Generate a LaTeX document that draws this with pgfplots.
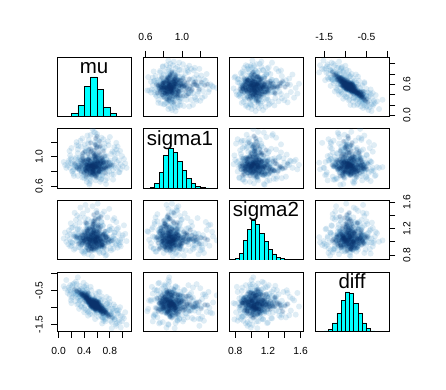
\documentclass[border=0pt]{standalone}
\usepackage{fontspec}
\setmainfont{Liberation Sans}
\usepackage{pgfplots}
\pgfplotsset{compat=1.18}
\usepackage{pgfplotstable}
\definecolor{halo}{RGB}{66,146,198}
\definecolor{core}{RGB}{8,48,107}
\definecolor{histc}{RGB}{0,255,255}

\pgfplotstableread{
mu s1 s2 diff
0.52 0.84 1.01 -0.79
0.61 0.93 1.08 -1.02
0.47 0.88 0.97 -0.71
0.58 0.79 1.12 -0.95
0.66 0.91 1.04 -1.08
0.43 0.86 0.99 -0.69
0.55 1.02 1.15 -0.84
0.71 0.83 0.94 -1.17
0.38 0.95 1.06 -0.64
0.54 0.77 1.21 -0.93
0.49 0.89 1.03 -0.88
0.63 0.81 0.92 -0.90
0.57 0.97 1.09 -1.05
0.45 0.85 1.18 -0.62
0.68 0.90 1.00 -0.97
0.51 1.08 1.05 -0.86
0.59 0.74 0.98 -1.12
0.35 0.87 1.11 -0.55
0.62 0.92 0.95 -0.83
0.53 0.82 1.27 -0.99
0.48 0.99 1.02 -0.77
0.74 0.86 1.07 -1.21
0.56 0.80 0.90 -0.74
0.41 0.94 1.13 -0.80
0.64 1.13 1.01 -1.00
0.50 0.88 0.96 -0.92
0.60 0.76 1.16 -0.87
0.46 0.84 1.04 -0.58
0.69 0.96 1.10 -1.15
0.55 0.91 0.88 -0.95
0.32 0.83 1.06 -0.49
0.58 1.04 1.00 -1.04
0.52 0.79 1.23 -0.81
0.77 0.87 0.99 -1.26
0.44 0.90 1.08 -0.76
0.61 0.85 1.34 -0.89
0.57 1.17 1.03 -0.97
0.49 0.81 0.93 -0.70
0.65 0.93 1.12 -1.11
0.40 0.78 1.01 -0.66
0.54 0.86 1.05 -0.91
0.67 0.98 0.97 -0.94
0.47 0.89 1.19 -0.85
0.59 0.72 1.07 -1.03
0.36 0.92 0.95 -0.61
0.56 0.84 1.14 -0.78
0.72 1.01 1.02 -1.10
0.51 0.87 0.86 -0.96
0.63 0.80 1.09 -1.06
0.42 0.95 1.29 -0.72
0.58 0.88 1.00 -0.82
0.50 1.06 1.11 -0.90
0.69 0.83 0.96 -1.19
0.45 0.90 1.04 -0.67
0.55 0.77 1.17 -1.01
0.60 0.94 0.91 -0.86
0.28 0.86 1.08 -0.52
0.53 0.91 1.03 -0.93
0.64 1.21 1.06 -1.04
0.48 0.82 0.99 -0.75
0.57 0.85 1.22 -0.98
0.81 0.89 1.01 -1.22
0.46 0.97 0.94 -0.81
0.62 0.79 1.13 -0.88
0.52 0.88 1.07 -0.97
0.39 0.93 1.02 -0.60
0.66 0.84 1.38 -1.13
0.55 1.00 0.98 -0.79
0.43 0.81 1.10 -0.84
0.70 0.92 1.05 -1.01
0.51 0.75 0.89 -0.87
0.59 0.87 1.15 -1.09
0.47 1.10 1.04 -0.73
0.61 0.90 0.97 -0.92
0.54 0.83 1.25 -0.89
0.34 0.96 1.06 -0.63
0.58 0.86 1.01 -0.96
0.73 0.78 1.09 -1.14
0.49 0.94 0.93 -0.78
0.56 1.03 1.12 -0.99
0.63 0.85 1.00 -0.85
0.44 0.89 1.20 -0.70
0.53 0.80 1.03 -1.02
0.68 0.99 0.95 -1.05
0.50 0.87 1.08 -0.83
0.60 0.91 1.44 -0.91
0.41 0.84 0.99 -0.57
0.57 0.76 1.05 -1.07
0.65 1.15 1.02 -0.98
0.52 0.88 0.90 -0.88
0.46 0.82 1.14 -0.80
0.75 0.93 1.07 -1.18
0.55 0.86 0.96 -0.94
0.38 1.05 1.10 -0.68
0.62 0.79 1.01 -1.00
0.54 0.90 1.31 -0.86
0.48 0.95 1.04 -0.91
0.67 0.84 0.92 -1.09
0.59 0.87 1.16 -0.82
0.43 0.73 1.06 -0.74
0.56 0.92 0.98 -1.03
0.70 1.08 1.03 -1.12
0.51 0.85 1.11 -0.76
0.31 0.89 0.97 -0.56
0.61 0.81 1.24 -0.95
0.53 0.97 1.00 -0.89
0.64 0.86 1.08 -1.07
0.47 0.83 0.87 -0.82
0.58 1.25 1.05 -0.93
0.45 0.88 1.13 -0.65
0.66 0.91 1.02 -1.16
0.55 0.78 0.95 -0.86
0.50 0.94 1.19 -0.98
0.79 0.87 1.04 -1.28
0.42 0.84 1.09 -0.71
0.60 0.99 0.93 -0.84
0.54 0.82 1.06 -1.05
0.37 0.90 1.01 -0.59
0.63 0.86 1.36 -1.02
0.57 1.02 1.07 -0.90
0.49 0.80 0.98 -0.80
0.71 0.93 1.12 -1.09
0.52 0.88 1.03 -0.94
0.44 0.76 0.91 -0.72
0.62 0.95 1.15 -0.99
0.56 0.85 1.00 -0.81
0.25 0.91 1.08 -0.47
0.59 1.12 1.04 -1.01
0.48 0.83 1.21 -0.87
0.68 0.89 0.96 -1.03
0.53 0.79 1.10 -0.92
0.40 0.96 1.02 -0.69
0.65 0.87 0.94 -1.10
0.55 0.81 1.27 -0.85
0.46 1.04 1.05 -0.77
0.61 0.92 0.99 -0.97
0.51 0.86 1.13 -0.96
0.74 0.84 1.01 -1.15
0.58 0.98 0.89 -0.88
0.43 0.89 1.07 -0.64
0.57 0.74 1.03 -1.06
0.64 0.91 1.17 -0.93
0.50 1.19 0.97 -0.84
0.36 0.85 1.09 -0.62
0.60 0.88 1.05 -1.04
0.54 0.82 0.92 -0.79
0.69 0.95 1.11 -1.20
0.47 0.87 1.00 -0.86
0.56 0.80 1.32 -0.91
0.62 1.01 1.06 -1.00
0.45 0.93 0.95 -0.75
0.53 0.84 1.14 -0.97
0.84 0.89 1.02 -1.31
0.49 0.77 1.08 -0.83
0.58 0.90 0.98 -0.90
0.41 1.07 1.04 -0.67
0.66 0.86 1.23 -1.06
0.55 0.92 1.01 -0.95
0.51 0.83 0.90 -0.78
0.63 0.88 1.10 -1.08
0.39 0.79 1.05 -0.73
0.57 0.97 0.96 -0.87
0.72 0.85 1.16 -1.13
0.48 0.91 1.03 -0.92
0.60 1.14 1.07 -0.89
0.52 0.87 0.93 -0.99
0.44 0.81 1.28 -0.71
0.67 0.94 1.00 -1.02
0.54 0.89 1.12 -0.84
0.33 0.86 0.99 -0.58
0.59 0.78 1.06 -1.05
0.47 0.96 1.09 -0.80
0.65 0.90 0.94 -0.95
0.56 1.09 1.18 -0.93
0.50 0.84 1.02 -0.87
0.76 0.88 1.08 -1.19
0.42 0.82 0.97 -0.68
0.61 0.93 1.04 -1.03
0.53 0.75 1.14 -0.90
0.58 1.00 1.01 -0.82
0.46 0.87 0.88 -0.85
0.70 0.91 1.11 -1.06
0.55 0.85 1.41 -0.96
0.38 0.98 1.05 -0.65
0.63 0.80 0.99 -1.01
0.51 0.89 1.07 -0.91
0.60 1.28 1.03 -0.94
0.45 0.86 1.16 -0.74
0.68 0.83 0.95 -1.11
0.57 0.92 1.09 -0.89
0.49 0.78 1.00 -0.81
0.64 0.95 1.20 -1.07
0.52 0.88 0.92 -0.86
0.29 0.84 1.06 -0.54
0.59 0.90 1.02 -0.98
0.54 1.05 1.13 -0.92
0.73 0.87 0.98 -1.16
0.43 0.81 1.04 -0.70
0.62 0.94 1.26 -0.96
0.56 0.86 1.08 -0.88
0.48 0.91 0.94 -0.83
0.66 0.79 1.01 -1.04
0.50 1.11 1.10 -0.97
0.60 0.85 0.97 -0.85
0.40 0.88 1.15 -0.63
0.55 0.82 1.05 -1.00
0.78 0.93 1.03 -1.23
0.53 0.89 0.89 -0.87
0.47 0.76 1.12 -0.79
0.61 0.99 1.07 -1.01
0.57 0.87 1.35 -0.94
0.44 0.84 0.99 -0.76
0.65 1.03 1.04 -1.08
0.51 0.90 1.18 -0.90
0.35 0.80 1.02 -0.60
0.59 0.86 0.93 -0.95
0.69 0.92 1.09 -1.05
0.54 0.88 1.01 -0.82
0.46 0.96 1.06 -0.84
0.62 0.83 1.22 -0.99
0.52 0.78 0.96 -0.92
0.58 1.16 1.08 -0.86
0.42 0.89 1.03 -0.73
0.71 0.85 0.91 -1.10
0.55 0.94 1.13 -0.91
0.49 0.87 1.00 -0.80
0.64 0.81 1.05 -1.02
0.56 0.91 1.29 -0.97
0.37 1.01 0.98 -0.66
0.60 0.86 1.10 -0.93
0.53 0.84 1.04 -0.85
0.67 0.97 0.95 -1.12
0.45 0.79 1.16 -0.77
0.57 0.90 1.02 -0.99
0.50 0.88 1.07 -0.89
0.63 1.06 0.99 -0.96
0.41 0.83 1.11 -0.62
0.58 0.87 0.92 -1.03
0.74 0.92 1.06 -1.09
0.54 0.80 1.19 -0.90
0.08 0.93 1.05 -0.38
1.06 0.85 1.01 -1.52
0.18 1.02 1.12 -0.49
0.95 0.79 0.95 -1.44
0.55 1.34 1.08 -0.86
0.48 0.64 1.03 -0.80
0.61 0.89 1.58 -0.98
0.52 0.90 0.78 -0.88
0.30 0.86 1.02 -0.12
0.83 0.92 1.07 -1.62
0.22 0.81 0.98 -0.33
0.88 0.97 1.14 -1.35
0.45 1.29 1.25 -0.55
0.66 0.69 0.90 -1.25
0.14 0.88 1.09 -0.58
0.92 1.05 1.01 -1.20
0.59 0.95 1.47 -0.70
0.40 0.71 0.85 -1.02
0.77 1.21 0.97 -0.98
0.27 0.99 1.33 -0.62
1.00 0.87 1.10 -1.28
0.50 0.67 1.19 -0.40
0.70 1.24 0.83 -1.40
0.34 0.94 1.52 -0.80
0.86 0.76 1.05 -1.05
0.20 1.12 0.94 -0.72
0.62 0.98 1.39 -0.55
0.46 1.18 0.81 -1.15
0.80 0.91 1.23 -0.85
0.24 0.74 1.08 -0.30
0.57 1.33 1.15 -1.18
0.36 0.90 0.86 -1.00
0.90 1.10 1.30 -1.10
0.12 0.85 1.00 -0.20
0.68 0.73 1.42 -1.30
0.43 1.07 1.21 -0.35
0.75 1.00 0.88 -0.70
0.31 1.15 1.12 -0.90
0.97 0.83 0.99 -1.60
0.53 0.96 1.54 -1.22
0.31 0.97 0.92 -0.71
0.79 0.80 1.18 -0.93
0.26 0.88 1.25 -0.66
0.84 1.07 0.96 -1.05
0.37 0.72 1.03 -0.51
0.72 1.18 1.12 -1.34
0.19 0.91 1.00 -0.55
0.93 0.86 1.21 -1.17
0.42 1.09 0.86 -1.08
0.67 0.70 1.30 -0.78
0.33 0.84 1.37 -0.81
0.81 0.95 0.90 -1.40
0.28 1.20 1.06 -0.44
0.76 0.78 1.16 -0.88
0.40 0.93 0.82 -0.40
0.69 1.11 1.24 -1.32
0.23 0.77 1.11 -0.60
0.88 0.99 1.04 -0.98
0.35 1.14 0.95 -0.97
0.73 0.68 1.08 -1.42
0.16 0.95 1.17 -0.42
0.97 0.90 0.93 -1.25
0.44 0.70 1.27 -0.48
0.62 1.22 0.88 -1.28
0.30 1.05 1.20 -0.74
0.85 0.82 1.33 -1.12
0.38 0.87 0.84 -0.88
0.78 1.16 1.00 -1.02
0.21 0.80 0.99 -0.38
0.91 0.93 1.19 -1.47
0.47 1.23 1.10 -0.62
0.65 0.66 0.98 -0.82
0.29 0.92 1.40 -0.92
0.82 1.04 0.87 -1.18
0.39 0.75 1.15 -0.28
0.71 0.89 1.46 -1.24
0.17 1.08 1.04 -0.63
0.94 0.79 1.12 -1.08
0.50 1.30 0.94 -1.02
0.58 0.68 1.22 -0.60
0.26 0.97 0.90 -0.82
0.87 1.13 1.14 -1.36
0.33 0.82 1.29 -0.37
0.75 0.96 0.80 -0.90
0.41 1.17 1.36 -0.95
0.68 0.75 0.93 -1.48
0.22 0.90 1.22 -0.70
0.99 1.01 1.06 -1.42
0.36 0.78 0.99 -0.45
0.80 1.27 1.18 -1.14
0.45 0.94 1.48 -1.10
0.63 0.72 0.85 -0.74
0.30 1.10 1.09 -0.58
0.89 0.85 0.97 -1.50
0.53 1.38 1.02 -0.65
0.48 0.62 1.16 -1.12
0.15 0.92 0.96 -0.50
1.02 0.97 1.25 -1.33
0.42 0.83 1.56 -0.58
0.73 1.02 0.79 -1.36
0.27 0.86 1.13 -0.25
0.86 0.88 1.09 -0.92
0.34 1.22 0.91 -0.76
0.76 0.71 1.37 -1.22
0.19 0.98 1.28 -0.80
0.92 1.14 0.91 -1.10
0.49 0.70 1.07 -1.20
0.67 1.26 1.30 -0.68
0.24 0.83 0.88 -0.52
0.83 0.76 1.20 -1.45
0.38 1.03 1.43 -0.50
0.70 0.94 0.84 -1.30
0.10 0.89 1.14 -0.45
0.96 1.08 1.03 -1.00
0.44 0.66 0.92 -0.78
0.60 1.31 1.26 -1.16
0.32 0.91 1.05 -1.05
0.79 0.85 1.50 -0.75
0.28 1.16 1.01 -0.32
0.85 0.69 0.89 -1.28
0.46 1.00 1.34 -1.25
0.64 0.80 0.83 -0.55
0.20 0.96 1.21 -0.88
1.04 0.91 1.12 -1.15
0.37 1.25 0.97 -0.62
0.74 0.63 1.15 -1.05
0.25 0.89 1.44 -0.58
0.90 1.19 0.95 -1.55
0.51 0.73 1.31 -0.50
0.57 1.20 0.87 -1.35
0.33 0.99 1.19 -0.68
0.82 0.87 1.02 -1.20
0.43 1.12 0.89 -0.42
0.69 0.77 1.25 -0.95
0.18 0.85 0.93 -0.35
0.87 1.06 1.36 -1.30
0.40 0.81 1.09 -1.15
0.72 1.13 1.02 -0.82
0.30 0.74 1.18 -0.62
0.94 0.95 0.99 -1.38
}\data

\pgfplotsset{
  panel/.style={scale only axis, width=74pt, height=59.5pt,
    axis line style={line width=0.9pt, black},
    xtick=\empty, ytick=\empty, tick align=outside, major tick length=6pt,
    tick style={line width=0.8pt, black},
    ticklabel style={font=\fontsize{10.3}{12}\selectfont},
    clip marker paths=true},
  xmu/.style={xmin=-0.025,xmax=1.13}, ymu/.style={ymin=-0.025,ymax=1.13},
  xsa/.style={xmin=0.573,xmax=1.383}, ysa/.style={ymin=0.573,ymax=1.383},
  xsb/.style={xmin=0.724,xmax=1.629}, ysb/.style={ymin=0.724,ymax=1.629},
  xdf/.style={xmin=-1.72,xmax=0.035}, ydf/.style={ymin=-1.72,ymax=0.035},
  yh/.style={ymin=0,ymax=1.5},
  hbar/.style={ybar interval, fill=histc, draw=black, line width=0.6pt},
  bx/.style={xtick pos=left, xticklabel pos=left, xticklabel style={anchor=north, inner sep=10pt}},
  tx/.style={xtick pos=right, xticklabel pos=right, xticklabel style={anchor=south, inner sep=10pt}},
  ly/.style={ytick pos=left, yticklabel pos=left, yticklabel style={rotate=90, anchor=south, inner sep=8pt}},
  ry/.style={ytick pos=right, yticklabel pos=right, yticklabel style={rotate=90, anchor=north, inner sep=8pt}},
  tmuB/.style={bx, xtick={0,0.2,0.4,0.6,0.8,1.0}, xticklabels={0.0,,0.4,,0.8,}},
  tmuR/.style={ry, ytick={0,0.2,0.4,0.6,0.8,1.0}, yticklabels={0.0,,,0.6,,}},
  tsaT/.style={tx, xtick={0.6,0.8,1.0,1.2}, xticklabels={0.6,,1.0,}},
  tsaL/.style={ly, ytick={0.6,0.8,1.0,1.2}, yticklabels={0.6,,1.0,}},
  tsbB/.style={bx, xtick={0.8,1.0,1.2,1.4,1.6}, xticklabels={0.8,,1.2,,1.6}},
  tsbR/.style={ry, ytick={0.8,1.0,1.2,1.4,1.6}, yticklabels={0.8,,1.2,,1.6}},
  tdfT/.style={tx, xtick={-1.5,-1.0,-0.5,0}, xticklabels={-1.5,,-0.5,}},
  tdfL/.style={ly, ytick={-1.5,-1.0,-0.5,0}, yticklabels={-1.5,,-0.5,}},
}
\newcommand{\scat}[2]{%
  \addplot[only marks, mark=*, mark size=3.0pt, color=halo,
    mark options={fill=halo, draw opacity=0, fill opacity=0.17}] table[x=#1,y=#2]{\data};
  \addplot[only marks, mark=*, mark size=2.2pt, color=core,
    skip coords between index={240}{1000},
    mark options={fill=core, draw opacity=0, fill opacity=0.17}] table[x=#1,y=#2]{\data};}
\newcommand{\dlab}[1]{\node[anchor=base, yshift=-16.3pt, font=\fontsize{20.5}{24}\selectfont, inner sep=0pt] at (rel axis cs:0.5,1) {#1};}

\begin{document}
\begin{tikzpicture}
\path[use as bounding box] (0,0) rectangle (446pt,389pt);
% row 1
\begin{axis}[panel, at={(57pt,272.5pt)}, xmu, yh]
  \addplot[hbar] coordinates {(0.1,0.01) (0.2,0.08) (0.3,0.27) (0.4,0.76) (0.5,1.00) (0.6,0.69) (0.7,0.23) (0.8,0.07) (0.9,0.01) (1.0,0)};
  \dlab{mu}
\end{axis}
\begin{axis}[panel, at={(143pt,272.5pt)}, xsa, ymu, tsaT] \scat{s1}{mu} \end{axis}
\begin{axis}[panel, at={(229pt,272.5pt)}, xsb, ymu] \scat{s2}{mu} \end{axis}
\begin{axis}[panel, at={(315pt,272.5pt)}, xdf, ymu, tdfT, tmuR] \scat{diff}{mu} \end{axis}
% row 2
\begin{axis}[panel, at={(57pt,200.8pt)}, xmu, ysa, tsaL] \scat{mu}{s1} \end{axis}
\begin{axis}[panel, at={(143pt,200.8pt)}, xsa, yh]
  \addplot[hbar] coordinates {(0.65,0.02) (0.70,0.12) (0.75,0.40) (0.80,0.82) (0.85,1.00) (0.90,0.90) (0.95,0.68) (1.00,0.45) (1.05,0.25) (1.10,0.12) (1.15,0.05) (1.20,0.02) (1.25,0.01) (1.30,0)};
  \dlab{sigma1}
\end{axis}
\begin{axis}[panel, at={(229pt,200.8pt)}, xsb, ysa] \scat{s2}{s1} \end{axis}
\begin{axis}[panel, at={(315pt,200.8pt)}, xdf, ysa] \scat{diff}{s1} \end{axis}
% row 3
\begin{axis}[panel, at={(57pt,129.1pt)}, xmu, ysb] \scat{mu}{s2} \end{axis}
\begin{axis}[panel, at={(143pt,129.1pt)}, xsa, ysb] \scat{s1}{s2} \end{axis}
\begin{axis}[panel, at={(229pt,129.1pt)}, xsb, yh]
  \addplot[hbar] coordinates {(0.80,0.03) (0.85,0.17) (0.90,0.50) (0.95,0.77) (1.00,1.00) (1.05,0.90) (1.10,0.67) (1.15,0.47) (1.20,0.27) (1.25,0.15) (1.30,0.07) (1.35,0.03) (1.40,0.01) (1.45,0.005) (1.50,0)};
  \dlab{sigma2}
\end{axis}
\begin{axis}[panel, at={(315pt,129.1pt)}, xdf, ysb, tsbR] \scat{diff}{s2} \end{axis}
% row 4
\begin{axis}[panel, at={(57pt,57.4pt)}, xmu, ydf, tmuB, tdfL] \scat{mu}{diff} \end{axis}
\begin{axis}[panel, at={(143pt,57.4pt)}, xsa, ydf] \scat{s1}{diff} \end{axis}
\begin{axis}[panel, at={(229pt,57.4pt)}, xsb, ydf, tsbB] \scat{s2}{diff} \end{axis}
\begin{axis}[panel, at={(315pt,57.4pt)}, xdf, yh]
  \addplot[hbar] coordinates {(-1.6,0.005) (-1.5,0.02) (-1.4,0.05) (-1.3,0.22) (-1.2,0.46) (-1.1,0.78) (-1.0,1.00) (-0.9,0.97) (-0.8,0.72) (-0.7,0.46) (-0.6,0.22) (-0.5,0.08) (-0.4,0.02) (-0.3,0.005) (-0.2,0)};
  \dlab{diff}
\end{axis}
\end{tikzpicture}
\end{document}
